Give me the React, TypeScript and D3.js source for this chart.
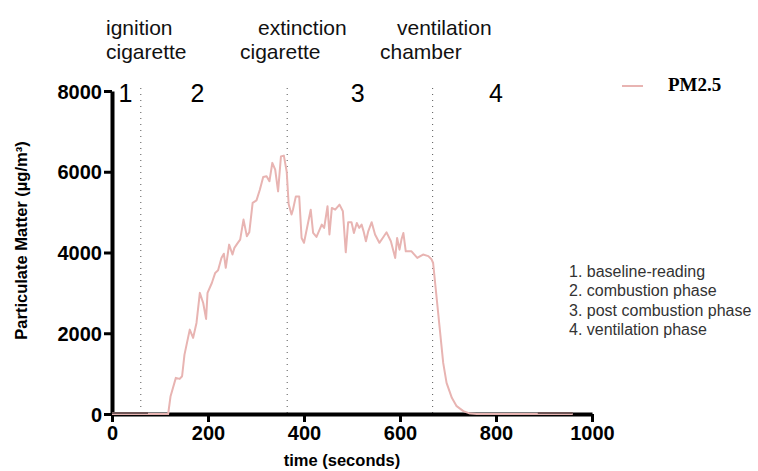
import React, { useRef, useEffect } from "react";
import * as d3 from "d3";

// PM2.5 readings (seconds, µg/m³)
const times = [
  0, 20, 40, 60, 80, 100, 117, 122, 133, 141, 146, 151, 162, 169, 176, 183, 190, 196, 199, 208,
  215, 221, 228, 233, 237, 244, 251, 255, 261, 267, 274, 281, 286, 293, 301, 308, 315, 322, 328,
  334, 340, 346, 352, 358, 364, 368, 374, 377, 383, 390, 395, 400, 407, 414, 419, 426, 437, 442,
  449, 453, 458, 465, 474, 481, 487, 492, 499, 504, 510, 515, 520, 524, 529, 534, 541, 548, 557,
  564, 572, 581, 590, 594, 599, 603, 607, 612, 624, 636, 648, 659, 666, 669, 676, 683, 690, 697,
  708, 718, 732, 746, 760, 800, 850, 900, 960,
];
const pm25 = [
  0, 0, 0, 0, 0, 0, 0, 440, 895, 870, 935, 1470, 2090, 1885, 2255, 3000, 2750, 2355, 3000, 3245,
  3495, 3560, 3865, 3970, 3620, 4195, 3950, 4115, 4220, 4320, 4815, 4400, 4500, 5230, 5290, 5555,
  5870, 5890, 5765, 6220, 6050, 5515, 6380, 6400, 6000, 5200, 4940, 5060, 5390, 5390, 4360, 4240,
  4650, 5060, 4485, 4385, 4690, 4610, 5145, 4445, 5105, 5060, 5185, 5020, 4005, 4750, 4750, 4485,
  4730, 4610, 4690, 4530, 4280, 4530, 4750, 4445, 4240, 4360, 4500, 4280, 3865, 4360, 4070, 4320,
  4485, 4030, 4030, 3865, 3950, 3910, 3825, 3740, 2915, 2090, 1265, 770, 400, 195, 70, 10, 0, 0,
  0, 0, 0,
];
// stretches where the trace lies on the axis and shows dark
const darkStretches = [
  [0, 75],
  [887, 960],
];

const phaseBounds = [60, 365, 668];
const phaseNumbers = ["1", "2", "3", "4"];
const phaseNumberAt = [28, 178, 512, 800];
const eventLabels = [
  ["ignition", "cigarette"],
  ["extinction", "cigarette"],
  ["ventilation", "chamber"],
];
const phaseNotes = [
  "1. baseline-reading",
  "2. combustion phase",
  "3. post combustion phase",
  "4. ventilation phase",
];
const xTicks = [0, 200, 400, 600, 800, 1000];
const yTicks = [0, 2000, 4000, 6000, 8000];

const App = () => {
  const svgRef = useRef<SVGSVGElement>(null);

  useEffect(() => {
    const width = 758;
    const height = 471;
    const margin = { top: 91, right: 166, bottom: 57, left: 112 };

    const svg = d3.select(svgRef.current).attr("width", width).attr("height", height);
    svg.selectAll("*").remove();

    const x = d3.scaleLinear().domain([0, 1000]).range([margin.left, width - margin.right]);
    const y = d3
      .scaleLinear()
      .domain([0, 8000])
      .range([height - margin.bottom, margin.top]);

    const sans = "'Liberation Sans', Arial, sans-serif";

    // phase boundaries
    svg
      .selectAll("line.phase")
      .data(phaseBounds)
      .join("line")
      .attr("class", "phase")
      .attr("x1", (d) => x(d))
      .attr("x2", (d) => x(d))
      .attr("y1", y(8000) - 3)
      .attr("y2", y(0))
      .attr("stroke", "#555")
      .attr("stroke-width", 1)
      .attr("stroke-dasharray", "1,5");

    const line = d3
      .line<number>()
      .x((d, i) => x(times[i]))
      .y((d) => y(d));

    // axes
    const xAxis = svg
      .append("g")
      .attr("transform", `translate(0,${y(0)})`)
      .call(
        d3
          .axisBottom(x)
          .tickValues(xTicks)
          .tickFormat(d3.format("d"))
          .tickSize(8)
          .tickSizeOuter(0)
          .tickPadding(4)
      );
    const yAxis = svg
      .append("g")
      .attr("transform", `translate(${x(0)},0)`)
      .call(
        d3
          .axisLeft(y)
          .tickValues(yTicks)
          .tickFormat(d3.format("d"))
          .tickSize(8)
          .tickSizeOuter(0)
          .tickPadding(2)
      );

    [xAxis, yAxis].forEach((g) => {
      g.select(".domain").attr("stroke", "#000").attr("stroke-width", 4);
      g.selectAll(".tick line").attr("stroke", "#000").attr("stroke-width", 3);
      g.selectAll(".tick text")
        .attr("fill", "#000")
        .style("font-family", sans)
        .style("font-size", "20px")
        .style("font-weight", "bold");
    });
    yAxis.selectAll(".tick text").attr("dy", "0.36em");

    svg
      .append("path")
      .datum(pm25)
      .attr("fill", "none")
      .attr("stroke", "#e8b4b2")
      .attr("stroke-width", 2)
      .attr("stroke-linejoin", "round")
      .attr("d", line);

    svg
      .selectAll("line.dark")
      .data(darkStretches)
      .join("line")
      .attr("class", "dark")
      .attr("x1", (d) => x(d[0]))
      .attr("x2", (d) => x(d[1]))
      .attr("y1", y(0) - 1)
      .attr("y2", y(0) - 1)
      .attr("stroke", "#6e5656")
      .attr("stroke-width", 2);

    // axis titles
    svg
      .append("text")
      .attr("x", x(500) - 10)
      .attr("y", 466)
      .attr("text-anchor", "middle")
      .style("font-family", sans)
      .style("font-size", "16.5px")
      .style("font-weight", "bold")
      .text("time (seconds)");

    svg
      .append("text")
      .attr("transform", `translate(27,${y(4000) - 12}) rotate(-90)`)
      .attr("text-anchor", "middle")
      .style("font-family", sans)
      .style("font-size", "16.5px")
      .style("font-weight", "bold")
      .text("Particulate Matter (µg/m³)");

    // phase numbers
    svg
      .selectAll("text.pnum")
      .data(phaseNumbers)
      .join("text")
      .attr("class", "pnum")
      .attr("x", (d, i) => x(phaseNumberAt[i]))
      .attr("y", 102)
      .attr("text-anchor", "middle")
      .style("font-family", sans)
      .style("font-size", "25px")
      .text((d) => d);

    // event labels above the chart
    const labelX = [
      [106, 106],
      [258, 240],
      [397, 380],
    ];
    eventLabels.forEach((pair, i) => {
      pair.forEach((t, j) => {
        svg
          .append("text")
          .attr("x", labelX[i][j])
          .attr("y", 35 + j * 24)
          .style("font-family", sans)
          .style("font-size", "21px")
          .attr("fill", "#111")
          .text(t);
      });
    });

    // notes
    svg
      .selectAll("text.note")
      .data(phaseNotes)
      .join("text")
      .attr("class", "note")
      .attr("x", 569)
      .attr("y", (d, i) => 277 + i * 19.3)
      .style("font-family", sans)
      .style("font-size", "16px")
      .attr("fill", "#333")
      .text((d) => d);

    // legend
    svg
      .append("line")
      .attr("x1", 622)
      .attr("x2", 643)
      .attr("y1", 86)
      .attr("y2", 86)
      .attr("stroke", "#e8b4b2")
      .attr("stroke-width", 2);
    svg
      .append("text")
      .attr("x", 668)
      .attr("y", 91)
      .style("font-family", "'Liberation Serif', 'Times New Roman', serif")
      .style("font-size", "19px")
      .style("font-weight", "bold")
      .text("PM2.5");
  }, []);

  return (
    <svg ref={svgRef} style={{ position: "absolute", left: 0, top: 0, background: "#fff" }}></svg>
  );
};

export default App;
